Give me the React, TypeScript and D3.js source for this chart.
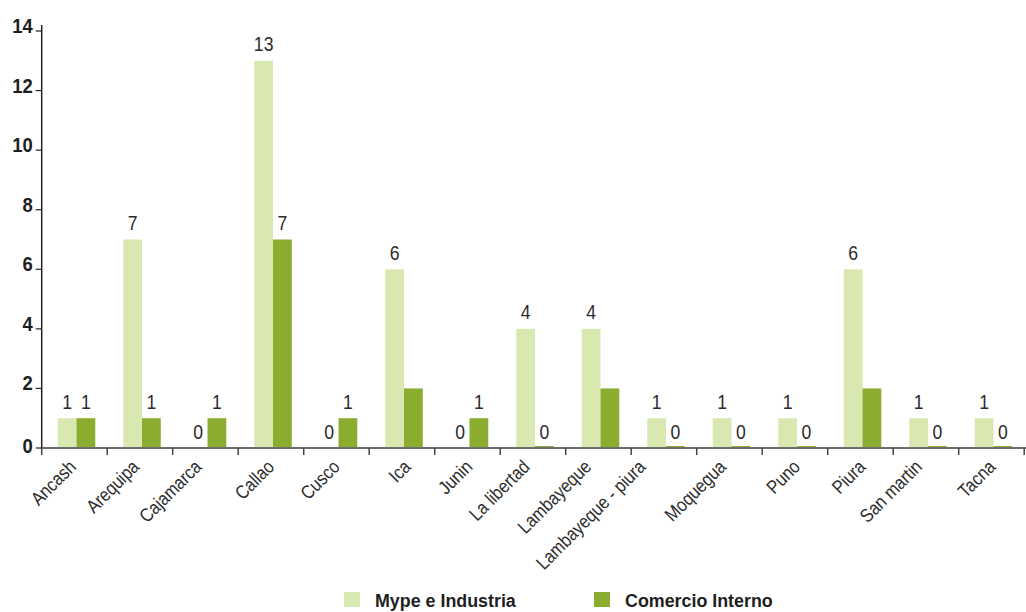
import React from "react";
import * as d3 from "d3";

const categories = [
  "Ancash", "Arequipa", "Cajamarca", "Callao", "Cusco", "Ica", "Junin", "La libertad",
  "Lambayeque", "Lambayeque - piura", "Moquegua", "Puno", "Piura", "San martin", "Tacna",
];
const mypeValues = [1, 7, 0, 13, 0, 6, 0, 4, 4, 1, 1, 1, 6, 1, 1];
const comercioValues = [1, 1, 1, 7, 1, 2, 1, 0, 2, 0, 0, 0, 2, 0, 0];
// labels shown above bars (null = no label in the original)
const mypeLabels: (string | null)[] = ["1", "7", "0", "13", "0", "6", "0", "4", "4", "1", "1", "1", "6", "1", "1"];
const comercioLabels: (string | null)[] = ["1", "1", "1", "7", "1", null, "1", "0", null, "0", "0", "0", null, "0", "0"];
const seriesNames = ["Mype e Industria", "Comercio Interno"];
const seriesColors = ["#d9e8b1", "#8aad2f"];
const yTicks = [0, 2, 4, 6, 8, 10, 12, 14];

const FONT = "'Liberation Sans', Arial, Helvetica, sans-serif";

let ctx: CanvasRenderingContext2D | null = null;
function textWidth(s: string, size: number, sx: number, weight = "normal") {
  if (!ctx) ctx = document.createElement("canvas").getContext("2d");
  if (!ctx) return s.length * size * 0.5 * sx;
  ctx.font = `${weight} ${size}px 'Liberation Sans', Arial, sans-serif`;
  return ctx.measureText(s).width * sx;
}

function T(props: {
  x: number; y: number; size: number; weight?: string; anchor?: string; rotate?: number;
  fill?: string; sx?: number; children: React.ReactNode;
}) {
  const { x, y, size, weight = "normal", anchor = "start", rotate = 0, fill = "#2b2b2b", sx = 0.9 } = props;
  return (
    <text transform={`translate(${x},${y}) rotate(${rotate}) scale(${sx},1)`} x={0} y={0}
      textAnchor={anchor} fontSize={size} fontWeight={weight} fill={fill} fontFamily={FONT}>
      {props.children}
    </text>
  );
}

export default function App() {
  const W = 1026, H = 612;
  const x0 = 41.7, x1 = x0 + 65.5 * categories.length;
  const x = d3.scaleBand<string>().domain(categories).range([x0, x1]).paddingInner(0).paddingOuter(0);
  const bw = x.bandwidth();
  const inner = d3.scaleBand<string>().domain(["a", "b"]).range([bw * 0.245, bw * 0.818]).padding(0);
  const y = d3.scaleLinear().domain([0, 14]).range([448, 31]);
  const series = [
    { key: "a", values: mypeValues, labels: mypeLabels, color: seriesColors[0] },
    { key: "b", values: comercioValues, labels: comercioLabels, color: seriesColors[1] },
  ];
  const ticksX = d3.range(categories.length + 1).map((i) => x0 + bw * i);
  const XS = 19, XSX = 0.86;

  return (
    <svg width={W} height={H} style={{ position: "absolute", left: 0, top: 0, background: "#fff" }}>
      {/* bars */}
      {series.map((s) =>
        categories.map((c, i) => {
          const v = s.values[i];
          const bx = (x(c) as number) + (inner(s.key) as number);
          let h = y(0) - y(v);
          if (v === 0 && s.key === "b") h = 2;
          return (
            <rect key={s.key + c} x={bx} y={y(0) - h} width={inner.bandwidth()} height={h}
              fill={s.color} />
          );
        })
      )}
      {/* value labels */}
      {series.map((s) =>
        categories.map((c, i) => {
          const lab = s.labels[i];
          if (lab === null) return null;
          const bx = (x(c) as number) + (inner(s.key) as number) + inner.bandwidth() / 2;
          return (
            <T key={"l" + s.key + c} x={bx} y={y(s.values[i]) - 9.5} anchor="middle" size={20}
              sx={0.88} fill="#2b2b2b">{lab}</T>
          );
        })
      )}
      {/* x axis */}
      <line x1={x0} x2={W} y1={y(0)} y2={y(0)} stroke="#6e6e6e" strokeWidth={2} />
      {ticksX.map((t, i) => (
        <line key={"tx" + i} x1={t} x2={t} y1={y(0)} y2={y(0) + 7} stroke="#444" strokeWidth={1.5} />
      ))}
      {categories.map((c) => {
        const L = textWidth(c, XS, XSX);
        const cx = (x(c) as number) + bw / 2 + 14.7 - 0.22 * L;
        const cy = y(0) + 20;
        return (
          <T key={"xl" + c} x={cx} y={cy} rotate={-45} anchor="end" size={XS} sx={XSX}
            fill="#2b2b2b">{c}</T>
        );
      })}
      {/* y axis */}
      <line x1={x0} x2={x0} y1={25} y2={y(0)} stroke="#222" strokeWidth={1.5} />
      {yTicks.map((t) => (
        <g key={"ty" + t}>
          <line x1={x0 - 6} x2={x0} y1={y(t)} y2={y(t)} stroke="#222" strokeWidth={1.2} />
          <T x={x0 - 9} y={y(t) + (t === 0 ? 5 : 2)} anchor="end" size={20.5} weight="bold"
            fill="#1e1e1e">{t}</T>
        </g>
      ))}
      {/* legend */}
      {seriesNames.map((n, i) => {
        const lx = i === 0 ? 344 : 594;
        return (
          <g key={"lg" + n}>
            <rect x={lx} y={592} width={16} height={15} fill={seriesColors[i]} />
            <T x={lx + 31} y={607} size={19} sx={0.94} weight="bold" fill="#1e1e1e">{n}</T>
          </g>
        );
      })}
    </svg>
  );
}
